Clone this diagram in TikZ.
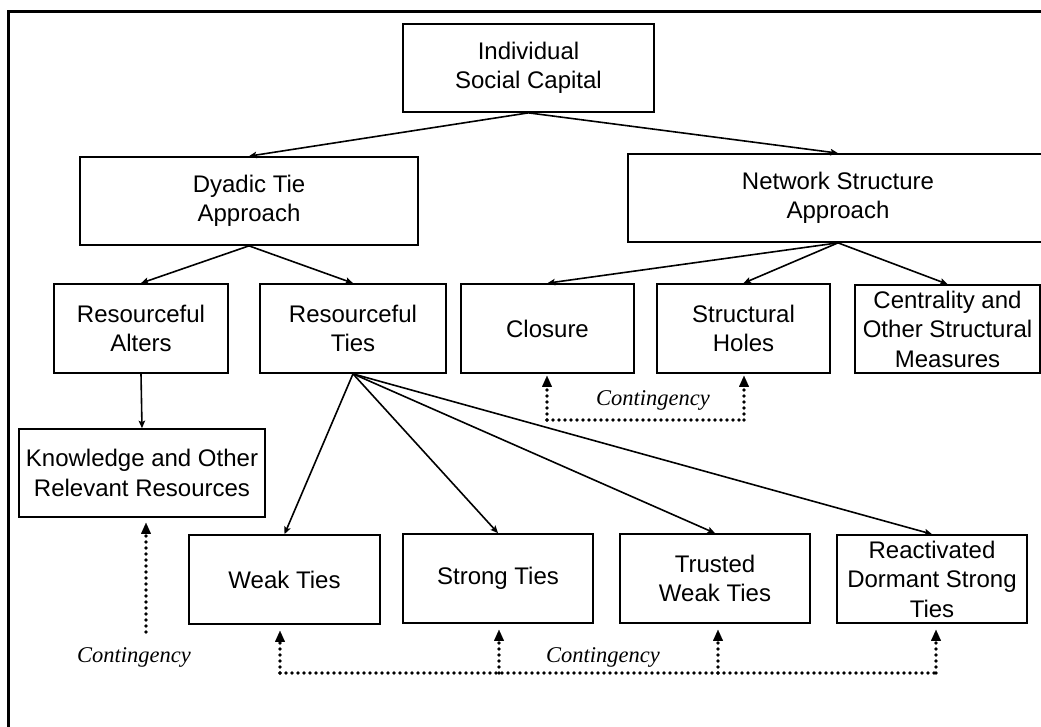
\documentclass[tikz,border=0pt]{standalone}
\usepackage{fontspec}
\newfontfamily\boxfont{Liberation Sans}
\newfontfamily\contfont{Liberation Serif}
\usetikzlibrary{arrows.meta}
\begin{document}
\begin{tikzpicture}[x=1pt,y=-1pt,
  box/.style={draw, line width=1.7pt, rectangle, align=center, inner sep=0pt,
    font=\boxfont\fontsize{24}{29.5}\selectfont},
  link/.style={line width=1.6pt, -{Stealth[length=7.5pt,width=6.5pt,inset=1.5pt]}},
  dots/.style={line width=3.8pt, line cap=round, dash pattern=on 0pt off 6pt},
  conttip/.style={-{Triangle[length=11pt,width=10pt,line width=0.01pt]}},
  cont/.style={font=\contfont\itshape\fontsize{22.5}{24}\selectfont, inner sep=0pt}
]
\useasboundingbox (0,0) rectangle (1041,726);
\fill[white] (0,0) rectangle (1041,726);
% outer frame
\draw[line width=3pt] (8.5,11) rectangle (1048,734);

% top level
\node[box, minimum width=251pt, minimum height=88pt] (isc) at (528.5,68) {Individual\\Social Capital};
\node[box, minimum width=338pt, minimum height=88pt] (dyadic) at (249,201) {Dyadic Tie\\Approach};
\node[box, minimum width=420pt, minimum height=88pt] (nsa) at (838,198) {Network Structure\\Approach};

% middle row
\node[box, minimum width=174pt, minimum height=89pt] (alters) at (141,328.5) {Resourceful\\Alters};
\node[box, minimum width=186pt, minimum height=89pt] (ties) at (353,328.5) {Resourceful\\Ties};
\node[box, minimum width=173pt, minimum height=89pt] (closure) at (547.5,328.5) {Closure};
\node[box, minimum width=173pt, minimum height=89pt] (holes) at (743.5,328.5) {Structural\\Holes};
\node[box, minimum width=185pt, minimum height=88pt] (central) at (947.5,329) {Centrality and\\Other Structural\\Measures};

% lower boxes
\node[box, minimum width=246pt, minimum height=88pt] (know) at (142,473) {Knowledge and Other\\Relevant Resources};
\node[box, minimum width=191pt, minimum height=89pt] (weak) at (284.5,579.5) {Weak Ties};
\node[box, minimum width=190pt, minimum height=89pt] (strong) at (498,578.5) {Strong Ties};
\node[box, minimum width=190pt, minimum height=89pt] (trusted) at (715,578.5) {Trusted\\Weak Ties};
\node[box, minimum width=190pt, minimum height=88pt] (react) at (932,579) {Reactivated\\Dormant Strong\\Ties};

% hierarchy links
\draw[link] (isc.south) -- (dyadic.north);
\draw[link] (isc.south) -- (nsa.north);
\draw[link] (dyadic.south) -- (alters.north);
\draw[link] (dyadic.south) -- (ties.north);
\draw[link] (nsa.south) -- (closure.north);
\draw[link] (nsa.south) -- (holes.north);
\draw[link] (nsa.south) -- (central.north);
\draw[link] (alters.south) -- (know.north);
\draw[link] (ties.south) -- (weak.north);
\draw[link] (ties.south) -- (strong.north);
\draw[link] (ties.south) -- (trusted.north);
\draw[link] (ties.south) -- (react.north);

% contingency between closure and structural holes
\coordinate (cl) at (547,420);
\coordinate (cr) at (744,420);
\draw[dots] (cl) -- (cr);
\draw[dots, conttip, shorten >=2pt] (cl) -- (cl |- closure.south);
\draw[dots, conttip, shorten >=2pt] (cr) -- (cr |- holes.south);
\node[cont] (c1) at (653,400) {Contingency};

% contingency for resources
\coordinate (kb) at (146,632);
\draw[dots, conttip, shorten >=5pt] (kb) -- (kb |- know.south);
\node[cont] (c2) at (134,657) {Contingency};

% contingency across tie types
\coordinate (wb) at (280,673);
\coordinate (sb) at (499,673);
\coordinate (tb) at (718,673);
\coordinate (rb) at (936,673);
\draw[dots] (wb) -- (rb);
\draw[dots, conttip, shorten >=6pt] (wb) -- (wb |- weak.south);
\draw[dots, conttip, shorten >=6pt] (sb) -- (sb |- strong.south);
\draw[dots, conttip, shorten >=6pt] (tb) -- (tb |- trusted.south);
\draw[dots, conttip, shorten >=6pt] (rb) -- (rb |- react.south);
\node[cont] (c3) at (603,657) {Contingency};
\end{tikzpicture}
\end{document}
